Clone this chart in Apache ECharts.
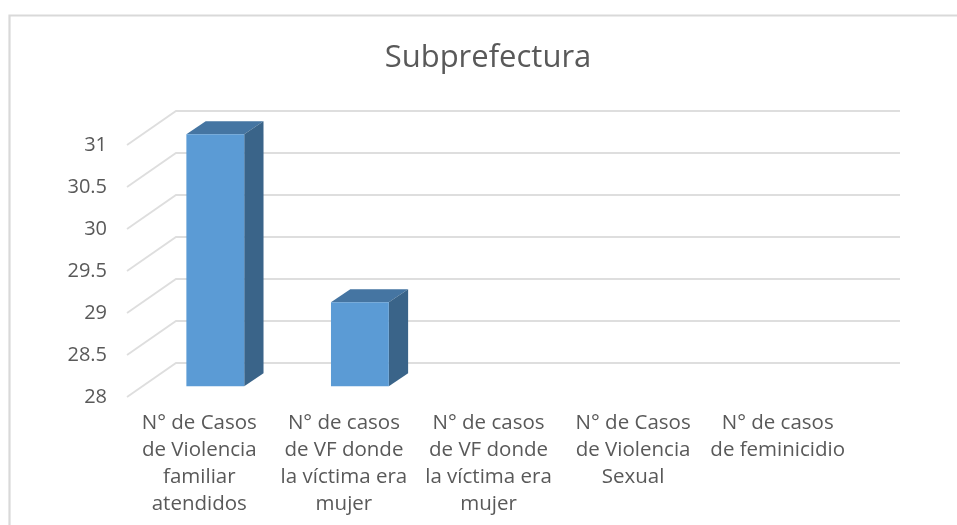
<!DOCTYPE html>
<html>
<head>
<meta charset="utf-8">
<style>html,body{margin:0;padding:0;background:#fff}#c{width:957px;height:525px}</style>
<script src="https://cdn.jsdelivr.net/npm/echarts@6/dist/echarts.min.js"></script>
</head>
<body>
<div id="c"></div>
<script>
const chartTitle = 'Subprefectura';
const categories = [
  'N° de Casos\nde Violencia\nfamiliar\natendidos',
  'N° de casos\nde VF donde\nla víctima era\nmujer',
  'N° de casos\nde VF donde\nla víctima era\nmujer',
  'N° de Casos\nde Violencia\nSexual',
  'N° de casos\nde feminicidio'
];
const values = [31, 29, null, null, null];
const gridTicks = [28, 28.5, 29, 29.5, 30, 30.5, 31];
const axisMin = 28, axisMax = 31, axisStep = 0.5;

const FONT = '"Open Sans", sans-serif';
const TEXT = '#595959';
const chart = echarts.init(document.getElementById('c'), null, {renderer: 'canvas'});

function renderWall(params, api) {
  const v = api.value(1);
  const y = api.coord([0, v])[1];
  const cs = params.coordSys;
  const x0 = cs.x, x1 = cs.x + 49, x2 = cs.x + cs.width + 50;
  return {
    type: 'polyline',
    shape: {points: [[x0, y], [x1, y - 34], [x2, y - 34]]},
    style: {fill: null, stroke: '#dedede', lineWidth: 1.8}
  };
}
function renderBar(params, api) {
  const i = api.value(0), v = api.value(1);
  if (isNaN(v)) return null;
  const band = api.size([1, 0])[0];
  const top = api.coord([i, v]), base = api.coord([i, axisMin]);
  const w = band * 0.4, ox = 16, oy = -10.7, dx = 19.3, dy = -13;
  const l = top[0] + ox - w / 2, r = l + w, t = top[1] + oy, b = base[1] + oy;
  return {
    type: 'group',
    children: [
      {type: 'polygon', shape: {points: [[l, t], [r, t], [r + dx, t + dy], [l + dx, t + dy]]}, style: {fill: '#4575a2'}},
      {type: 'polygon', shape: {points: [[r, t], [r + dx, t + dy], [r + dx, b + dy], [r, b]]}, style: {fill: '#3a6489'}},
      {type: 'rect', shape: {x: l, y: t, width: w, height: b - t}, style: {fill: '#5b9bd5'}}
    ]
  };
}

chart.setOption({
  animation: false,
  backgroundColor: '#fff',
  title: {
    text: chartTitle, left: 483, top: 35, textAlign: 'center',
    textStyle: {fontFamily: FONT, fontSize: 31, fontWeight: 'normal', color: TEXT, lineHeight: 36}
  },
  grid: {left: 127, right: 107, top: 145, bottom: 128, containLabel: false},
  xAxis: {
    type: 'category', data: categories,
    axisLine: {show: false}, axisTick: {show: false}, splitLine: {show: false},
    axisLabel: {interval: 0, margin: 13, fontFamily: FONT, fontSize: 20.5, lineHeight: 27, color: TEXT, hideOverlap: false}
  },
  yAxis: {
    type: 'value', min: axisMin, max: axisMax, interval: axisStep,
    axisLine: {show: false}, axisTick: {show: false}, splitLine: {show: false},
    axisLabel: {margin: 20, fontFamily: FONT, fontSize: 20, color: TEXT, padding: [2, 0, 0, 0]}
  },
  series: [
    {type: 'custom', z: 1, renderItem: renderWall, encode: {x: 0, y: 1}, data: gridTicks.map(v => [0, v]), silent: true},
    {type: 'custom', z: 2, renderItem: renderBar, encode: {x: 0, y: 1}, data: values.map((v, i) => [i, v == null ? '-' : v])}
  ],
  graphic: [
    {type: 'polyline', silent: true, shape: {points: [[9.5, 525], [9.5, 15.5], [957, 15.5]]}, style: {fill: null, stroke: '#d9d9d9', lineWidth: 2.2}}
  ]
});
</script>
</body>
</html>
